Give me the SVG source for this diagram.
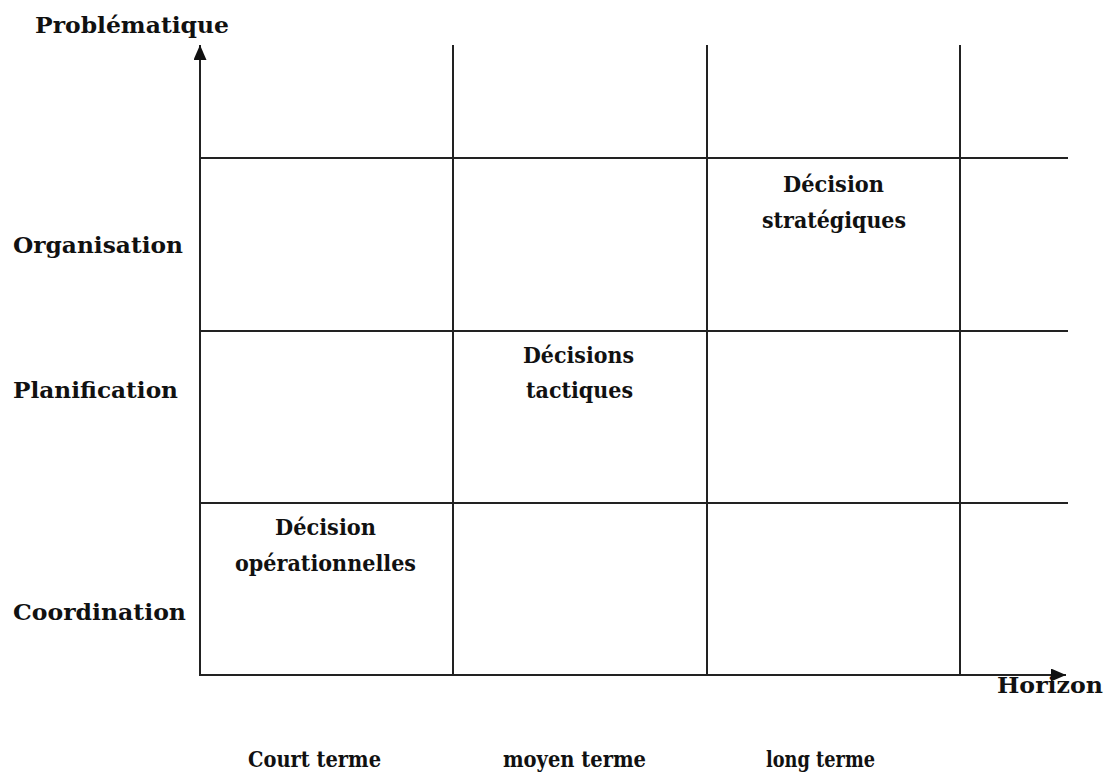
<svg xmlns="http://www.w3.org/2000/svg" width="1110" height="774" viewBox="0 0 1110 774">
  <style>
    .t { font-family: "DejaVu Serif", "Liberation Serif", serif; font-weight: bold; font-size: 23px; fill: #111; }
    .ln { stroke: #222; stroke-width: 2; fill: none; }
  </style>
  <defs>
    <marker id="ah" viewBox="0 0 15 13" refX="15" refY="6.5" markerWidth="15" markerHeight="13" markerUnits="userSpaceOnUse" orient="auto">
      <path d="M0,0 L15,6.5 L0,13 Z" fill="#111"/>
    </marker>
  </defs>
  <rect width="1110" height="774" fill="#fff"/>

  <g id="connectors">
    <!-- grid rows -->
    <line class="ln" x1="200" y1="158" x2="1068" y2="158"/>
    <line class="ln" x1="200" y1="331" x2="1068" y2="331"/>
    <line class="ln" x1="200" y1="503" x2="1068" y2="503"/>
    <!-- grid columns -->
    <line class="ln" x1="453" y1="45" x2="453" y2="675"/>
    <line class="ln" x1="707" y1="45" x2="707" y2="675"/>
    <line class="ln" x1="960" y1="45" x2="960" y2="675"/>
    <!-- axes -->
    <line class="ln" x1="200" y1="676" x2="200" y2="45" marker-end="url(#ah)"/>
    <line class="ln" x1="199" y1="675" x2="1066" y2="675" marker-end="url(#ah)"/>
  </g>

  <g id="axis-y-label"><text class="t" x="35" y="33" textLength="194" lengthAdjust="spacingAndGlyphs">Problématique</text></g>
  <g id="axis-x-label"><text class="t" x="997" y="693" textLength="106" lengthAdjust="spacingAndGlyphs">Horizon</text></g>

  <g id="row-organisation"><text class="t" x="13" y="253" textLength="170" lengthAdjust="spacingAndGlyphs">Organisation</text></g>
  <g id="row-planification"><text class="t" x="13" y="398" textLength="165" lengthAdjust="spacingAndGlyphs">Planification</text></g>
  <g id="row-coordination"><text class="t" x="13" y="620" textLength="173" lengthAdjust="spacingAndGlyphs">Coordination</text></g>

  <g id="col-court"><text class="t" x="248" y="767" textLength="133" lengthAdjust="spacingAndGlyphs">Court terme</text></g>
  <g id="col-moyen"><text class="t" x="503" y="767" textLength="143" lengthAdjust="spacingAndGlyphs">moyen terme</text></g>
  <g id="col-long"><text class="t" x="766" y="767" textLength="109" lengthAdjust="spacingAndGlyphs">long terme</text></g>

  <g id="cell-operationnelles">
    <text class="t" x="275" y="535" textLength="101" lengthAdjust="spacingAndGlyphs">Décision</text>
    <text class="t" x="235" y="571" textLength="181" lengthAdjust="spacingAndGlyphs">opérationnelles</text>
  </g>
  <g id="cell-tactiques">
    <text class="t" x="523" y="363" textLength="111" lengthAdjust="spacingAndGlyphs">Décisions</text>
    <text class="t" x="526" y="398" textLength="107" lengthAdjust="spacingAndGlyphs">tactiques</text>
  </g>
  <g id="cell-strategiques">
    <text class="t" x="783" y="192" textLength="101" lengthAdjust="spacingAndGlyphs">Décision</text>
    <text class="t" x="762" y="228" textLength="144" lengthAdjust="spacingAndGlyphs">stratégiques</text>
  </g>
</svg>
